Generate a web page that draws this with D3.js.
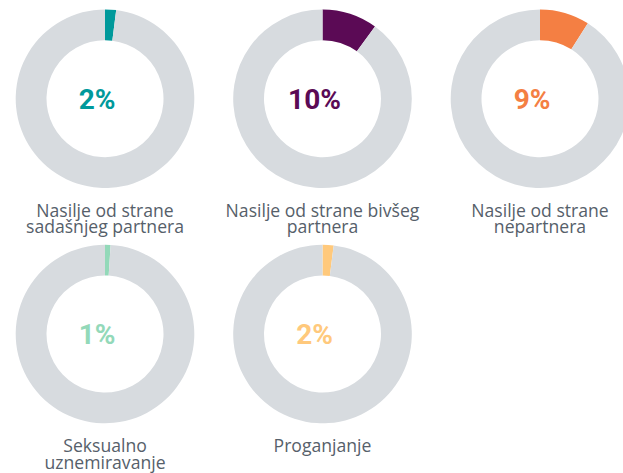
<!DOCTYPE html>
<html>
<head>
<meta charset="utf-8">
<script src="https://cdn.jsdelivr.net/npm/d3@7"></script>
<style>
  html, body { margin: 0; padding: 0; background: #ffffff; }
  svg { display: block; }
</style>
</head>
<body>
<svg id="chart" width="623" height="473"></svg>
<script>
// ---- data ----
const categories = [
  ["Nasilje od strane", "sadašnjeg partnera"],
  ["Nasilje od strane bivšeg", "partnera"],
  ["Nasilje od strane", "nepartnera"],
  ["Seksualno", "uznemiravanje"],
  ["Proganjanje"]
];
const values = [2, 10, 9, 1, 2];
const valueLabels = ["2%", "10%", "9%", "1%", "2%"];
const colors = ["#00999b", "#5b0a55", "#f47f43", "#93d9b9", "#ffc97c"];
const restColor = "#d7dbdf";

// ---- layout ----
const svg = d3.select("#chart");
const cols = 3;
const colX = d3.scaleLinear().domain([0, 1]).range([105, 322.5]);
const rowY = d3.scaleLinear().domain([0, 1]).range([98.7, 334]);
const outerR = 89.3, innerR = 58.5;

const pie = d3.pie().sort(null).value(d => d);
const arc = d3.arc().innerRadius(innerR).outerRadius(outerR);

values.forEach((v, i) => {
  const cx = colX(i % cols), cy = rowY(Math.floor(i / cols));
  const g = svg.append("g").attr("transform", `translate(${cx},${cy})`);
  const slices = pie([v, 100 - v]);
  g.selectAll("path").data(slices).join("path")
    .attr("d", arc)
    .attr("fill", (d, j) => j === 0 ? colors[i] : restColor);

  g.append("text")
    .attr("x", -8)
    .attr("y", 0)
    .attr("dy", "0.36em")
    .attr("text-anchor", "middle")
    .attr("font-family", "Roboto, 'Liberation Sans', sans-serif")
    .attr("font-weight", 700)
    .attr("font-size", 28)
    .attr("fill", colors[i])
    .text(valueLabels[i]);

  const t = g.append("text")
    .attr("text-anchor", "middle")
    .attr("font-family", "'Open Sans', 'Noto Sans', sans-serif")
    .attr("font-size", 17.6)
    .attr("fill", "#56606a");
  categories[i].forEach((line, k) => {
    t.append("tspan").attr("x", 0).attr("y", 118 + k * 16.6).text(line);
  });
});
</script>
</body>
</html>
